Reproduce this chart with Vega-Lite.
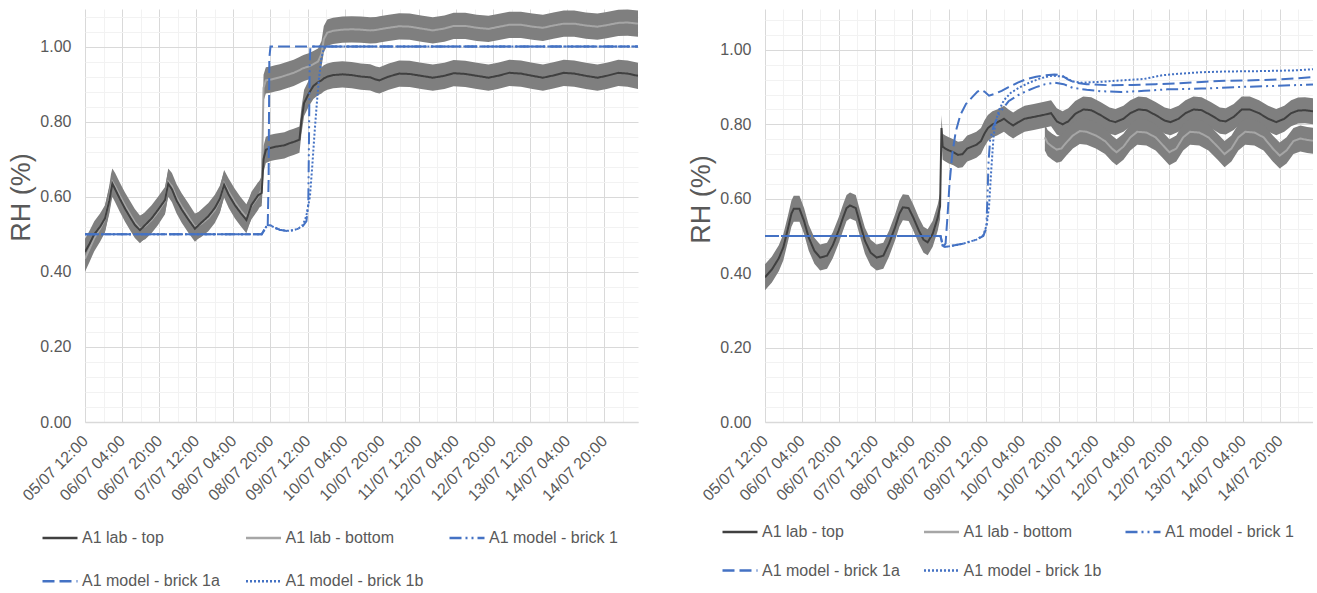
{
  "$schema": "https://vega.github.io/schema/vega-lite/v6.json",
  "background": "white",
  "padding": {"left": 7, "top": 8, "right": 0, "bottom": 0},
  "spacing": 49,
  "config": {
    "view": {"stroke": null},
    "font": "Liberation Sans",
    "axis": {"labelFont": "Liberation Sans", "labelFontSize": 16, "labelColor": "#595959", "ticks": false, "domain": false, "labelOverlap": false, "labelFlush": false, "titleFont": "Liberation Sans", "titleColor": "#595959", "titleFontWeight": "normal", "gridWidth": 1},
    "axisX": {"domain": true, "domainColor": "#d9d9d9", "domainWidth": 1.5, "labelAngle": -45, "labelAlign": "right", "labelBaseline": "middle", "labelPadding": 16},
    "axisY": {"titleFontSize": 27, "labelPadding": 14, "titlePadding": 4},
    "legend": {"title": null, "orient": "none", "direction": "horizontal", "columns": 3, "symbolType": "stroke", "symbolSize": 1225, "symbolStrokeWidth": 2.5, "labelFont": "Liberation Sans", "labelFontSize": 16, "labelColor": "#595959", "labelOffset": 3, "columnPadding": 20.5, "labelLimit": 0, "padding": 0}
  },
  "datasets": {
    "labL": [
      {"h": 0, "top": 0.453, "bot": 0.435, "e": 0.035},
      {"h": 2, "top": 0.475, "bot": 0.462, "e": 0.035},
      {"h": 4, "top": 0.5, "bot": 0.49, "e": 0.035},
      {"h": 6.5, "top": 0.52, "bot": 0.515, "e": 0.035},
      {"h": 8.6, "top": 0.542, "bot": 0.54, "e": 0.035},
      {"h": 10.5, "top": 0.59, "bot": 0.595, "e": 0.035},
      {"h": 11.2, "top": 0.615, "bot": 0.625, "e": 0.035},
      {"h": 11.8, "top": 0.635, "bot": 0.64, "e": 0.035},
      {"h": 13, "top": 0.62, "bot": 0.628, "e": 0.035},
      {"h": 15, "top": 0.595, "bot": 0.603, "e": 0.035},
      {"h": 17.2, "top": 0.569, "bot": 0.577, "e": 0.035},
      {"h": 19.5, "top": 0.545, "bot": 0.553, "e": 0.035},
      {"h": 21.5, "top": 0.525, "bot": 0.532, "e": 0.035},
      {"h": 23.7, "top": 0.511, "bot": 0.515, "e": 0.035},
      {"h": 26, "top": 0.525, "bot": 0.522, "e": 0.035},
      {"h": 28.7, "top": 0.542, "bot": 0.538, "e": 0.035},
      {"h": 31.5, "top": 0.565, "bot": 0.56, "e": 0.035},
      {"h": 34.5, "top": 0.591, "bot": 0.588, "e": 0.035},
      {"h": 35.9, "top": 0.635, "bot": 0.64, "e": 0.035},
      {"h": 37.5, "top": 0.62, "bot": 0.628, "e": 0.035},
      {"h": 39.5, "top": 0.59, "bot": 0.598, "e": 0.035},
      {"h": 41.7, "top": 0.566, "bot": 0.574, "e": 0.035},
      {"h": 44.5, "top": 0.54, "bot": 0.548, "e": 0.035},
      {"h": 47.4, "top": 0.515, "bot": 0.52, "e": 0.035},
      {"h": 50, "top": 0.53, "bot": 0.527, "e": 0.035},
      {"h": 53.2, "top": 0.548, "bot": 0.543, "e": 0.035},
      {"h": 56, "top": 0.57, "bot": 0.565, "e": 0.035},
      {"h": 58.2, "top": 0.595, "bot": 0.592, "e": 0.035},
      {"h": 60, "top": 0.632, "bot": 0.636, "e": 0.035},
      {"h": 62, "top": 0.605, "bot": 0.613, "e": 0.035},
      {"h": 64.6, "top": 0.578, "bot": 0.586, "e": 0.035},
      {"h": 67, "top": 0.558, "bot": 0.565, "e": 0.035},
      {"h": 69.6, "top": 0.538, "bot": 0.545, "e": 0.035},
      {"h": 71.8, "top": 0.578, "bot": 0.575, "e": 0.035},
      {"h": 74.7, "top": 0.604, "bot": 0.6, "e": 0.035},
      {"h": 76.2, "top": 0.61, "bot": 0.62, "e": 0.035},
      {"h": 77, "top": 0.7, "bot": 0.89, "e": 0.035},
      {"h": 78, "top": 0.725, "bot": 0.91, "e": 0.035},
      {"h": 80, "top": 0.73, "bot": 0.912, "e": 0.035},
      {"h": 82, "top": 0.733, "bot": 0.915, "e": 0.035},
      {"h": 84, "top": 0.735, "bot": 0.918, "e": 0.035},
      {"h": 86, "top": 0.737, "bot": 0.922, "e": 0.035},
      {"h": 88, "top": 0.742, "bot": 0.926, "e": 0.035},
      {"h": 90, "top": 0.746, "bot": 0.93, "e": 0.035},
      {"h": 92.5, "top": 0.752, "bot": 0.937, "e": 0.035},
      {"h": 93.3, "top": 0.8, "bot": 0.94, "e": 0.035},
      {"h": 94.5, "top": 0.85, "bot": 0.943, "e": 0.035},
      {"h": 96.5, "top": 0.875, "bot": 0.947, "e": 0.035},
      {"h": 98.5, "top": 0.895, "bot": 0.953, "e": 0.035},
      {"h": 100.5, "top": 0.905, "bot": 0.96, "e": 0.035},
      {"h": 102, "top": 0.91, "bot": 0.98, "e": 0.035},
      {"h": 103, "top": 0.915, "bot": 1.02, "e": 0.035},
      {"h": 104.5, "top": 0.92, "bot": 1.037, "e": 0.035},
      {"h": 107, "top": 0.924, "bot": 1.042, "e": 0.035},
      {"h": 111, "top": 0.926, "bot": 1.045, "e": 0.035},
      {"h": 115, "top": 0.924, "bot": 1.046, "e": 0.035},
      {"h": 119, "top": 0.92, "bot": 1.045, "e": 0.035},
      {"h": 123, "top": 0.918, "bot": 1.043, "e": 0.035},
      {"h": 125.5, "top": 0.912, "bot": 1.044, "e": 0.035},
      {"h": 127, "top": 0.91, "bot": 1.046, "e": 0.035},
      {"h": 131, "top": 0.92, "bot": 1.05, "e": 0.035},
      {"h": 135.5, "top": 0.928, "bot": 1.054, "e": 0.035},
      {"h": 140, "top": 0.927, "bot": 1.053, "e": 0.035},
      {"h": 145, "top": 0.922, "bot": 1.048, "e": 0.035},
      {"h": 150, "top": 0.917, "bot": 1.043, "e": 0.035},
      {"h": 155, "top": 0.922, "bot": 1.048, "e": 0.035},
      {"h": 159, "top": 0.929, "bot": 1.055, "e": 0.035},
      {"h": 164, "top": 0.927, "bot": 1.055, "e": 0.035},
      {"h": 169, "top": 0.922, "bot": 1.05, "e": 0.035},
      {"h": 174, "top": 0.917, "bot": 1.047, "e": 0.035},
      {"h": 178, "top": 0.922, "bot": 1.052, "e": 0.035},
      {"h": 183, "top": 0.93, "bot": 1.058, "e": 0.035},
      {"h": 188, "top": 0.928, "bot": 1.058, "e": 0.035},
      {"h": 193, "top": 0.922, "bot": 1.053, "e": 0.035},
      {"h": 197.5, "top": 0.917, "bot": 1.05, "e": 0.035},
      {"h": 202, "top": 0.923, "bot": 1.056, "e": 0.035},
      {"h": 206.5, "top": 0.93, "bot": 1.061, "e": 0.035},
      {"h": 211, "top": 0.928, "bot": 1.061, "e": 0.035},
      {"h": 216, "top": 0.922, "bot": 1.056, "e": 0.035},
      {"h": 221, "top": 0.917, "bot": 1.053, "e": 0.035},
      {"h": 225, "top": 0.922, "bot": 1.057, "e": 0.035},
      {"h": 230, "top": 0.93, "bot": 1.063, "e": 0.035},
      {"h": 234, "top": 0.928, "bot": 1.064, "e": 0.035},
      {"h": 238.5, "top": 0.922, "bot": 1.061, "e": 0.035}
    ],
    "modL": [
      {"h": 0, "b1": 0.5, "b1a": 0.5, "b1b": 0.5},
      {"h": 76.2, "b1": 0.5, "b1a": 0.5, "b1b": 0.5},
      {"h": 77.5, "b1": 0.515, "b1a": 0.512, "b1b": 0.515},
      {"h": 78.8, "b1": 0.524, "b1a": 0.522, "b1b": 0.524},
      {"h": 79.2, "b1a": 0.65},
      {"h": 79.5, "b1a": 0.97},
      {"h": 80, "b1": 0.524, "b1a": 1.0, "b1b": 0.524},
      {"h": 82, "b1": 0.517, "b1b": 0.517},
      {"h": 84, "b1": 0.512, "b1b": 0.512},
      {"h": 87, "b1": 0.509, "b1b": 0.509},
      {"h": 90, "b1": 0.511, "b1b": 0.511},
      {"h": 92, "b1": 0.515, "b1b": 0.515},
      {"h": 94, "b1": 0.522, "b1b": 0.525},
      {"h": 95.5, "b1": 0.535, "b1b": 0.55},
      {"h": 96.3, "b1": 0.58},
      {"h": 96.6, "b1": 0.75},
      {"h": 96.9, "b1": 0.95},
      {"h": 97, "b1b": 0.6},
      {"h": 97.2, "b1": 1.0},
      {"h": 98, "b1b": 0.68},
      {"h": 99, "b1b": 0.77},
      {"h": 100, "b1b": 0.85},
      {"h": 101, "b1b": 0.92},
      {"h": 102, "b1b": 0.97},
      {"h": 103, "b1b": 0.995},
      {"h": 104, "b1b": 1.0},
      {"h": 238.5, "b1": 1.0, "b1a": 1.0, "b1b": 1.0}
    ],
    "labR": [
      {"h": 0, "top": 0.389, "e": 0.035},
      {"h": 3, "top": 0.41, "e": 0.035},
      {"h": 6, "top": 0.44, "e": 0.035},
      {"h": 8, "top": 0.47, "e": 0.035},
      {"h": 10, "top": 0.52, "e": 0.035},
      {"h": 11.5, "top": 0.56, "e": 0.035},
      {"h": 12.5, "top": 0.573, "e": 0.035},
      {"h": 15, "top": 0.573, "e": 0.035},
      {"h": 17, "top": 0.54, "e": 0.035},
      {"h": 19, "top": 0.496, "e": 0.035},
      {"h": 21.5, "top": 0.46, "e": 0.035},
      {"h": 24, "top": 0.442, "e": 0.035},
      {"h": 27, "top": 0.447, "e": 0.035},
      {"h": 29.5, "top": 0.475, "e": 0.035},
      {"h": 32, "top": 0.514, "e": 0.035},
      {"h": 34, "top": 0.55, "e": 0.035},
      {"h": 35.5, "top": 0.575, "e": 0.035},
      {"h": 37, "top": 0.582, "e": 0.035},
      {"h": 39.5, "top": 0.575, "e": 0.035},
      {"h": 41.5, "top": 0.53, "e": 0.035},
      {"h": 43.5, "top": 0.487, "e": 0.035},
      {"h": 46, "top": 0.455, "e": 0.035},
      {"h": 48.6, "top": 0.442, "e": 0.035},
      {"h": 51.5, "top": 0.447, "e": 0.035},
      {"h": 54, "top": 0.48, "e": 0.035},
      {"h": 56.6, "top": 0.523, "e": 0.035},
      {"h": 58.5, "top": 0.56, "e": 0.035},
      {"h": 60, "top": 0.577, "e": 0.035},
      {"h": 62.5, "top": 0.575, "e": 0.035},
      {"h": 64.5, "top": 0.55, "e": 0.035},
      {"h": 67, "top": 0.514, "e": 0.035},
      {"h": 69, "top": 0.49, "e": 0.035},
      {"h": 70.8, "top": 0.483, "e": 0.035},
      {"h": 73, "top": 0.506, "e": 0.035},
      {"h": 75.2, "top": 0.55, "e": 0.035},
      {"h": 76.2, "top": 0.58, "e": 0.035},
      {"h": 76.8, "top": 0.79, "e": 0.035},
      {"h": 77.3, "top": 0.74, "e": 0.035},
      {"h": 78.5, "top": 0.735, "e": 0.035},
      {"h": 80, "top": 0.73, "e": 0.035},
      {"h": 82, "top": 0.725, "e": 0.035},
      {"h": 84, "top": 0.718, "e": 0.035},
      {"h": 86, "top": 0.72, "e": 0.035},
      {"h": 88, "top": 0.735, "e": 0.035},
      {"h": 90, "top": 0.74, "e": 0.035},
      {"h": 92, "top": 0.745, "e": 0.035},
      {"h": 94, "top": 0.755, "e": 0.035},
      {"h": 95.5, "top": 0.775, "e": 0.035},
      {"h": 97, "top": 0.79, "e": 0.035},
      {"h": 99, "top": 0.8, "e": 0.035},
      {"h": 101, "top": 0.805, "e": 0.035},
      {"h": 104, "top": 0.815, "e": 0.035},
      {"h": 106, "top": 0.805, "e": 0.035},
      {"h": 108, "top": 0.797, "e": 0.035},
      {"h": 110, "top": 0.805, "e": 0.035},
      {"h": 113, "top": 0.815, "e": 0.035},
      {"h": 117, "top": 0.82, "e": 0.035},
      {"h": 121, "top": 0.825, "e": 0.035},
      {"h": 121.8, "bot": 0.765, "e": 0.035},
      {"h": 123, "bot": 0.75, "e": 0.035},
      {"h": 124.5, "top": 0.83, "e": 0.035},
      {"h": 125, "bot": 0.74, "e": 0.035},
      {"h": 127, "top": 0.808, "bot": 0.732, "e": 0.035},
      {"h": 129, "bot": 0.735, "e": 0.035},
      {"h": 129.5, "top": 0.8, "e": 0.035},
      {"h": 131, "bot": 0.75, "e": 0.035},
      {"h": 132, "top": 0.808, "e": 0.035},
      {"h": 134, "bot": 0.77, "e": 0.035},
      {"h": 135, "top": 0.828, "e": 0.035},
      {"h": 137, "bot": 0.782, "e": 0.035},
      {"h": 138.5, "top": 0.84, "e": 0.035},
      {"h": 140, "bot": 0.78, "e": 0.035},
      {"h": 142, "top": 0.838, "e": 0.035},
      {"h": 144, "bot": 0.77, "e": 0.035},
      {"h": 146, "top": 0.825, "e": 0.035},
      {"h": 148, "bot": 0.755, "e": 0.035},
      {"h": 150, "top": 0.81, "e": 0.035},
      {"h": 151, "bot": 0.735, "e": 0.035},
      {"h": 152.5, "top": 0.806, "e": 0.035},
      {"h": 153, "bot": 0.725, "e": 0.035},
      {"h": 156, "top": 0.815, "bot": 0.74, "e": 0.035},
      {"h": 159, "top": 0.83, "bot": 0.765, "e": 0.035},
      {"h": 162, "bot": 0.78, "e": 0.035},
      {"h": 162.5, "top": 0.84, "e": 0.035},
      {"h": 166, "top": 0.838, "bot": 0.778, "e": 0.035},
      {"h": 170, "top": 0.825, "bot": 0.765, "e": 0.035},
      {"h": 173, "bot": 0.745, "e": 0.035},
      {"h": 174, "top": 0.81, "e": 0.035},
      {"h": 176, "bot": 0.725, "e": 0.035},
      {"h": 176.5, "top": 0.806, "e": 0.035},
      {"h": 179, "bot": 0.735, "e": 0.035},
      {"h": 180, "top": 0.815, "e": 0.035},
      {"h": 182, "bot": 0.765, "e": 0.035},
      {"h": 183, "top": 0.83, "e": 0.035},
      {"h": 185, "bot": 0.78, "e": 0.035},
      {"h": 186.5, "top": 0.84, "e": 0.035},
      {"h": 189, "bot": 0.778, "e": 0.035},
      {"h": 190, "top": 0.838, "e": 0.035},
      {"h": 193, "bot": 0.765, "e": 0.035},
      {"h": 194, "top": 0.825, "e": 0.035},
      {"h": 197, "bot": 0.74, "e": 0.035},
      {"h": 198, "top": 0.81, "e": 0.035},
      {"h": 200, "bot": 0.72, "e": 0.035},
      {"h": 200.5, "top": 0.808, "e": 0.035},
      {"h": 203, "bot": 0.735, "e": 0.035},
      {"h": 204, "top": 0.82, "e": 0.035},
      {"h": 206, "bot": 0.765, "e": 0.035},
      {"h": 207.5, "top": 0.84, "e": 0.035},
      {"h": 209, "bot": 0.78, "e": 0.035},
      {"h": 211, "top": 0.84, "e": 0.035},
      {"h": 213, "bot": 0.778, "e": 0.035},
      {"h": 215, "top": 0.83, "e": 0.035},
      {"h": 217, "bot": 0.765, "e": 0.035},
      {"h": 219, "top": 0.815, "e": 0.035},
      {"h": 221, "bot": 0.735, "e": 0.035},
      {"h": 222.5, "top": 0.806, "e": 0.035},
      {"h": 224, "bot": 0.716, "e": 0.035},
      {"h": 226, "top": 0.815, "e": 0.035},
      {"h": 227, "bot": 0.73, "e": 0.035},
      {"h": 229, "top": 0.83, "e": 0.035},
      {"h": 230, "bot": 0.755, "e": 0.035},
      {"h": 232, "top": 0.837, "e": 0.035},
      {"h": 233, "bot": 0.762, "e": 0.035},
      {"h": 235, "top": 0.838, "e": 0.035},
      {"h": 236, "bot": 0.758, "e": 0.035},
      {"h": 238.5, "top": 0.835, "bot": 0.756, "e": 0.035}
    ],
    "modR": [
      {"h": 0, "b1": 0.5, "b1a": 0.5, "b1b": 0.5},
      {"h": 76.4, "b1": 0.5, "b1a": 0.5, "b1b": 0.5},
      {"h": 77.5, "b1": 0.47, "b1a": 0.47, "b1b": 0.47},
      {"h": 78.6, "b1a": 0.48},
      {"h": 79.5, "b1a": 0.56},
      {"h": 80, "b1": 0.472, "b1b": 0.472},
      {"h": 80.3, "b1a": 0.64},
      {"h": 81.5, "b1a": 0.72},
      {"h": 83, "b1a": 0.78},
      {"h": 85, "b1a": 0.825},
      {"h": 86, "b1": 0.479, "b1b": 0.479},
      {"h": 87.5, "b1a": 0.855},
      {"h": 90.5, "b1a": 0.875},
      {"h": 92, "b1": 0.49, "b1b": 0.49},
      {"h": 92.5, "b1a": 0.888},
      {"h": 94, "b1a": 0.893},
      {"h": 95, "b1": 0.5, "b1b": 0.502},
      {"h": 95.5, "b1a": 0.888},
      {"h": 96.3, "b1": 0.52},
      {"h": 96.5, "b1b": 0.53},
      {"h": 96.8, "b1": 0.6},
      {"h": 97.3, "b1": 0.7},
      {"h": 97.5, "b1a": 0.877, "b1b": 0.58},
      {"h": 98, "b1": 0.76},
      {"h": 98.5, "b1b": 0.68},
      {"h": 99.5, "b1": 0.795, "b1b": 0.77},
      {"h": 100, "b1a": 0.882},
      {"h": 100.5, "b1b": 0.81},
      {"h": 102, "b1": 0.83, "b1b": 0.84},
      {"h": 103, "b1a": 0.89},
      {"h": 104, "b1b": 0.865},
      {"h": 106, "b1": 0.862, "b1a": 0.9},
      {"h": 107, "b1b": 0.885},
      {"h": 110, "b1": 0.878, "b1a": 0.912},
      {"h": 111, "b1b": 0.9},
      {"h": 114, "b1": 0.89, "b1a": 0.922},
      {"h": 115, "b1b": 0.912},
      {"h": 118, "b1": 0.9, "b1a": 0.928},
      {"h": 120, "b1b": 0.924},
      {"h": 122, "b1": 0.908, "b1a": 0.932},
      {"h": 125, "b1b": 0.931},
      {"h": 126, "b1": 0.912, "b1a": 0.934},
      {"h": 129, "b1a": 0.932},
      {"h": 130, "b1": 0.908, "b1b": 0.928},
      {"h": 132, "b1a": 0.92},
      {"h": 134, "b1": 0.898, "b1b": 0.915},
      {"h": 135, "b1a": 0.912},
      {"h": 138, "b1b": 0.912},
      {"h": 140, "b1": 0.893, "b1a": 0.908},
      {"h": 145, "b1b": 0.914},
      {"h": 146, "b1": 0.889},
      {"h": 150, "b1a": 0.905},
      {"h": 155, "b1": 0.887, "b1b": 0.918},
      {"h": 160, "b1a": 0.906},
      {"h": 165, "b1": 0.89, "b1b": 0.922},
      {"h": 170, "b1a": 0.908},
      {"h": 173, "b1b": 0.932},
      {"h": 175, "b1": 0.894},
      {"h": 180, "b1a": 0.91, "b1b": 0.936},
      {"h": 190, "b1": 0.896, "b1a": 0.914, "b1b": 0.94},
      {"h": 200, "b1a": 0.917, "b1b": 0.942},
      {"h": 205, "b1": 0.9},
      {"h": 210, "b1a": 0.918},
      {"h": 215, "b1b": 0.943},
      {"h": 220, "b1": 0.903, "b1a": 0.92},
      {"h": 230, "b1a": 0.923, "b1b": 0.945},
      {"h": 238.5, "b1": 0.907, "b1a": 0.927, "b1b": 0.948}
    ]
  },
  "resolve": {
    "scale": {"color": "independent", "strokeDash": "independent"},
    "legend": {"color": "independent", "strokeDash": "independent"}
  },
  "hconcat": [
    {
      "width": 553,
      "height": 413,
      "encoding": {
        "x": {"field": "h", "type": "quantitative", "scale": {"domain": [0, 238.5], "nice": false, "zero": false},
          "axis": {"title": null, "values": [0, 8, 16, 24, 32, 40, 48, 56, 64, 72, 80, 88, 96, 104, 112, 120, 128, 136, 144, 152, 160, 168, 176, 184, 192, 200, 208, 216, 224, 232],
            "labelExpr": "datum.value % 16 == 0 ? timeFormat(datetime(2021, 6, 5, 12 + datum.value), '%d/%m %H:%M') : ''",
            "gridColor": {"condition": {"test": "datum.value % 16 == 0", "value": "#d9d9d9"}, "value": "#f2f2f2"}}},
        "y": {"field": "v", "type": "quantitative", "scale": {"domain": [0, 1.1], "nice": false},
          "axis": {"title": "RH (%)", "titleY": 188, "values": [0, 0.04, 0.08, 0.12, 0.16, 0.2, 0.24, 0.28, 0.32, 0.36, 0.4, 0.44, 0.48, 0.52, 0.56, 0.6, 0.64, 0.68, 0.72, 0.76, 0.8, 0.84, 0.88, 0.92, 0.96, 1, 1.04, 1.08],
            "labelExpr": "round(datum.value * 100) % 20 == 0 ? format(datum.value, '.2f') : ''",
            "gridColor": {"condition": {"test": "round(datum.value * 100) % 20 == 0", "value": "#d9d9d9"}, "value": "#f2f2f2"}}}
      },
      "layer": [
        {
          "data": {"name": "labL"},
          "transform": [{"fold": ["bot", "top"], "as": ["s", "v"]}, {"filter": "isValid(datum.v)"}],
          "mark": {"type": "errorband", "color": "#7f7f7f", "opacity": 1},
          "encoding": {"yError": {"field": "e"}, "detail": {"field": "s"}}
        },
        {
          "data": {"name": "labL"},
          "transform": [{"fold": ["bot", "top"], "as": ["s", "v"]}, {"filter": "isValid(datum.v)"}],
          "mark": {"type": "line", "strokeWidth": 2, "clip": true},
          "encoding": {
            "color": {"field": "s", "type": "nominal", "scale": {"domain": ["top", "bot", "b1", "b1a", "b1b"], "range": ["#404040", "#a6a6a6", "#4472c4", "#4472c4", "#4472c4"]},
              "legend": {"legendX": -44, "legendY": 510, "rowPadding": 16.3, "labelExpr": "datum.label == 'top' ? 'A1 lab - top' : datum.label == 'bot' ? 'A1 lab - bottom' : datum.label == 'b1' ? 'A1 model - brick 1' : datum.label == 'b1a' ? 'A1 model - brick 1a' : 'A1 model - brick 1b'"}},
            "strokeDash": {"field": "s", "type": "nominal", "scale": {"domain": ["top", "bot", "b1", "b1a", "b1b"], "range": [[1, 0], [1, 0], [12, 4, 2, 4, 2, 4], [12, 5], [2, 2]]},
              "legend": {"legendX": -44, "legendY": 510, "rowPadding": 16.3, "labelExpr": "datum.label == 'top' ? 'A1 lab - top' : datum.label == 'bot' ? 'A1 lab - bottom' : datum.label == 'b1' ? 'A1 model - brick 1' : datum.label == 'b1a' ? 'A1 model - brick 1a' : 'A1 model - brick 1b'"}}
          }
        },
        {
          "data": {"name": "modL"},
          "transform": [{"fold": ["b1", "b1a", "b1b"], "as": ["s", "v"]}, {"filter": "isValid(datum.v)"}],
          "mark": {"type": "line", "strokeWidth": 2, "clip": true},
          "encoding": {
            "color": {"field": "s", "type": "nominal"},
            "strokeDash": {"field": "s", "type": "nominal"}
          }
        }
      ]
    },
    {
      "width": 548,
      "height": 413,
      "encoding": {
        "x": {"field": "h", "type": "quantitative", "scale": {"domain": [0, 238.5], "nice": false, "zero": false},
          "axis": {"title": null, "values": [0, 8, 16, 24, 32, 40, 48, 56, 64, 72, 80, 88, 96, 104, 112, 120, 128, 136, 144, 152, 160, 168, 176, 184, 192, 200, 208, 216, 224, 232],
            "labelExpr": "datum.value % 16 == 0 ? timeFormat(datetime(2021, 6, 5, 12 + datum.value), '%d/%m %H:%M') : ''",
            "gridColor": {"condition": {"test": "datum.value % 16 == 0", "value": "#d9d9d9"}, "value": "#f2f2f2"}}},
        "y": {"field": "v", "type": "quantitative", "scale": {"domain": [0, 1.11], "nice": false},
          "axis": {"title": "RH (%)", "titleY": 190, "values": [0, 0.04, 0.08, 0.12, 0.16, 0.2, 0.24, 0.28, 0.32, 0.36, 0.4, 0.44, 0.48, 0.52, 0.56, 0.6, 0.64, 0.68, 0.72, 0.76, 0.8, 0.84, 0.88, 0.92, 0.96, 1, 1.04, 1.08],
            "labelExpr": "round(datum.value * 100) % 20 == 0 ? format(datum.value, '.2f') : ''",
            "gridColor": {"condition": {"test": "round(datum.value * 100) % 20 == 0", "value": "#d9d9d9"}, "value": "#f2f2f2"}}}
      },
      "layer": [
        {
          "data": {"name": "labR"},
          "transform": [{"fold": ["top", "bot"], "as": ["s", "v"]}, {"filter": "isValid(datum.v)"}],
          "mark": {"type": "errorband", "color": "#7f7f7f", "opacity": 1},
          "encoding": {"yError": {"field": "e"}, "detail": {"field": "s"}}
        },
        {
          "data": {"name": "labR"},
          "transform": [{"fold": ["top", "bot"], "as": ["s", "v"]}, {"filter": "isValid(datum.v)"}],
          "mark": {"type": "line", "strokeWidth": 2, "clip": true},
          "encoding": {
            "color": {"field": "s", "type": "nominal", "scale": {"domain": ["top", "bot", "b1", "b1a", "b1b"], "range": ["#404040", "#a6a6a6", "#4472c4", "#4472c4", "#4472c4"]},
              "legend": {"legendX": -44, "legendY": 504, "rowPadding": 11.6, "columnPadding": 18.5, "labelExpr": "datum.label == 'top' ? 'A1 lab - top' : datum.label == 'bot' ? 'A1 lab - bottom' : datum.label == 'b1' ? 'A1 model - brick 1' : datum.label == 'b1a' ? 'A1 model - brick 1a' : 'A1 model - brick 1b'"}},
            "strokeDash": {"field": "s", "type": "nominal", "scale": {"domain": ["top", "bot", "b1", "b1a", "b1b"], "range": [[1, 0], [1, 0], [12, 4, 2, 4, 2, 4], [12, 5], [2, 2]]},
              "legend": {"legendX": -44, "legendY": 504, "rowPadding": 11.6, "columnPadding": 18.5, "labelExpr": "datum.label == 'top' ? 'A1 lab - top' : datum.label == 'bot' ? 'A1 lab - bottom' : datum.label == 'b1' ? 'A1 model - brick 1' : datum.label == 'b1a' ? 'A1 model - brick 1a' : 'A1 model - brick 1b'"}}
          }
        },
        {
          "data": {"name": "modR"},
          "transform": [{"fold": ["b1", "b1a", "b1b"], "as": ["s", "v"]}, {"filter": "isValid(datum.v)"}],
          "mark": {"type": "line", "strokeWidth": 2, "clip": true},
          "encoding": {
            "color": {"field": "s", "type": "nominal"},
            "strokeDash": {"field": "s", "type": "nominal"}
          }
        }
      ]
    }
  ]
}
